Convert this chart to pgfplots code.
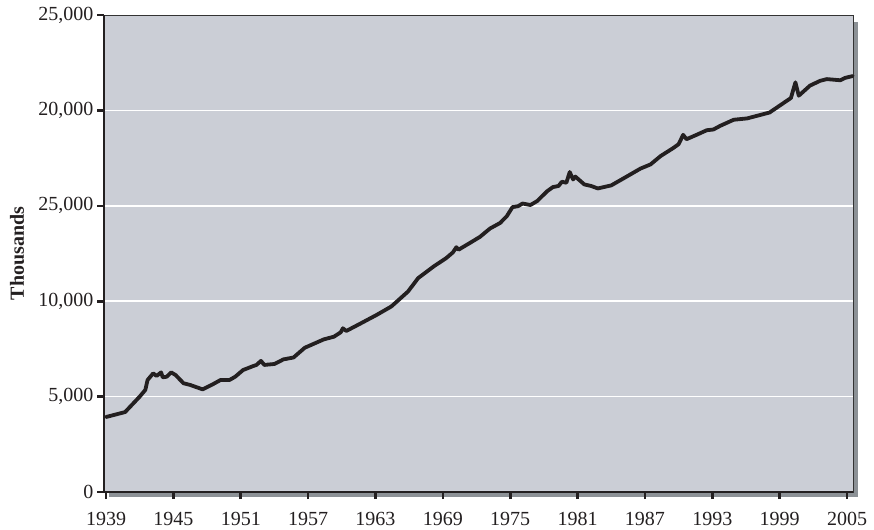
\documentclass[border=0pt]{standalone}
\usepackage{pgfplots}
\pgfplotsset{compat=1.18}
\usepackage{fontspec}
\setmainfont{Liberation Serif}
\definecolor{bgc}{HTML}{CBCED6}
\definecolor{shc}{HTML}{8C9196}
\definecolor{lnc}{HTML}{231F20}
\begin{document}
\begin{tikzpicture}
\fill[shc] (5pt,-5pt) rectangle (754pt,470pt);
\begin{axis}[
  scale only axis,
  width=749pt, height=477pt,
  xmin=1938.82, xmax=2005.53,
  ymin=0, ymax=25000,
  scaled y ticks=false, scaled x ticks=false,
  axis background/.style={fill=bgc},
  axis line style={draw=black!80, line width=1pt},
  xtick={1939,1945,...,2005},
  xticklabels={1939,1945,1951,1957,1963,1969,1975,1981,1987,1993,1999,2005},
  ytick={0,5000,10000,15000,20000,25000},
  yticklabels={0,{5,000},{10,000},{25,000},{20,000},{25,000}},
  extra y ticks={5000,10000,15000,20000},
  extra y tick labels={},
  extra y tick style={major tick length=0pt, grid=major, major grid style={white, line width=1.6pt}},
  tick pos=left, tick align=outside,
  major tick length=7pt,
  tick style={line width=2.6pt, draw=lnc},
  /pgf/number format/assume math mode=true,
  tick label style={font=\fontsize{20}{22}\selectfont, text=lnc},
  xticklabel style={yshift=-10pt},
  yticklabel style={xshift=0pt},
  ylabel={Thousands},
  every axis y label/.style={at={(axis description cs:-0.116,0.5)}, rotate=90, anchor=center, font=\fontsize{20}{22}\selectfont\bfseries, text=lnc},
  clip=false,
]
\addplot[lnc, line width=3.8pt, line join=round, line cap=round] table {
1939.0 3930
1940.7 4190
1942.0 5000
1942.5 5350
1942.7 5870
1943.2 6220
1943.5 6080
1943.9 6270
1944.05 6010
1944.4 6040
1944.8 6270
1945.2 6130
1945.9 5700
1946.5 5610
1947.6 5380
1948.4 5610
1949.2 5870
1950.0 5870
1950.5 6040
1951.2 6390
1952.1 6600
1952.4 6660
1952.8 6870
1953.1 6660
1954.0 6710
1954.8 6950
1955.7 7050
1956.7 7560
1958.4 8000
1959.3 8140
1959.9 8370
1960.1 8580
1960.4 8440
1961.6 8810
1963.1 9280
1964.4 9720
1964.9 9980
1965.9 10510
1966.8 11210
1968.2 11830
1969.3 12260
1969.9 12560
1970.2 12830
1970.4 12700
1971.4 13050
1972.3 13370
1973.2 13810
1974.1 14100
1974.7 14460
1975.2 14930
1975.7 14980
1976.1 15120
1976.8 15040
1977.4 15250
1978.3 15770
1978.8 15980
1979.3 16040
1979.6 16260
1980.0 16210
1980.3 16770
1980.6 16380
1980.8 16530
1981.6 16120
1982.2 16040
1982.8 15910
1984.0 16070
1985.1 16440
1986.6 16950
1987.5 17170
1988.4 17610
1989.5 18020
1990.0 18230
1990.4 18720
1990.7 18490
1991.6 18720
1992.5 18960
1993.1 19000
1993.7 19190
1994.9 19510
1996.1 19580
1998.1 19890
1999.0 20250
2000.0 20650
2000.4 21470
2000.7 20770
2001.7 21300
2002.6 21550
2003.2 21640
2004.4 21580
2004.8 21700
2005.5 21800
};
\draw[lnc, line width=2pt] (rel axis cs:0,1) -- (rel axis cs:0,0) -- (rel axis cs:1,0);
\end{axis}
\path (-104pt,-37pt) rectangle (770pt,492pt);
\end{tikzpicture}
\end{document}
